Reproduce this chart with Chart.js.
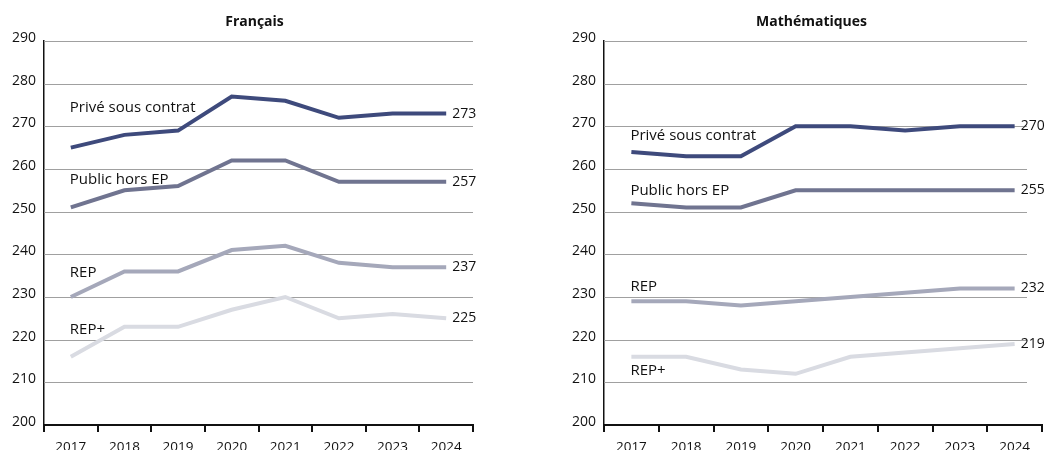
<!DOCTYPE html>
<html>
<head>
    <title>Scores par secteur</title>
    <script src="https://cdn.jsdelivr.net/npm/chart.js"></script>
    <style>
        body { margin: 0; background: #fff; }
        #wrap { position: relative; width: 1050px; height: 450px; }
        .box { position: absolute; top: 0; width: 525px; height: 450px; }
        #boxFr { left: 0; }
        #boxMa { left: 525px; }
    </style>
</head>
<body>
    <div id="wrap">
        <div class="box" id="boxFr"><canvas id="chartFr"></canvas></div>
        <div class="box" id="boxMa"><canvas id="chartMa"></canvas></div>
    </div>

    <script>
        const years = ['2017', '2018', '2019', '2020', '2021', '2022', '2023', '2024'];
        const seriesNames = ['Privé sous contrat', 'Public hors EP', 'REP', 'REP+'];

        // Français
        const frPrive = [265, 268, 269, 277, 276, 272, 273, 273];
        const frPublic = [251, 255, 256, 262, 262, 257, 257, 257];
        const frRep = [230, 236, 236, 241, 242, 238, 237, 237];
        const frRepPlus = [216, 223, 223, 227, 230, 225, 226, 225];

        // Mathématiques
        const maPrive = [264, 263, 263, 270, 270, 269, 270, 270];
        const maPublic = [252, 251, 251, 255, 255, 255, 255, 255];
        const maRep = [229, 229, 228, 229, 230, 231, 232, 232];
        const maRepPlus = [216, 216, 213, 212, 216, 217, 218, 219];

        const yMin = 200, yMax = 290, yStep = 10;

        const colors = ['#3e4a7c', '#707490', '#a5a8ba', '#d9dbe2'];
        const FONT = '"Open Sans", "DejaVu Sans", sans-serif';

        // horizontal gridlines, series names and end values
        const decor = {
            id: 'decor',
            beforeDatasetsDraw(chart, args, opts) {
                const { ctx, chartArea } = chart;
                const y = chart.scales.y;
                ctx.save();
                ctx.strokeStyle = '#a0a0a0';
                ctx.lineWidth = 1;
                for (let v = yMin + yStep; v <= yMax; v += yStep) {
                    const py = Math.round(y.getPixelForValue(v)) + 0.5;
                    ctx.beginPath();
                    ctx.moveTo(chartArea.left, py);
                    ctx.lineTo(chartArea.right - opts.trim, py);
                    ctx.stroke();
                }
                ctx.restore();
            },
            afterDatasetsDraw(chart, args, opts) {
                const { ctx, chartArea } = chart;
                const x = chart.scales.x;
                const y = chart.scales.y;
                ctx.save();
                ctx.fillStyle = '#111';
                ctx.textBaseline = 'middle';
                chart.data.datasets.forEach((ds, i) => {
                    ctx.textAlign = 'left';
                    ctx.font = '15px ' + FONT;
                    ctx.fillText(ds.label, x.getPixelForValue(0) - 1, y.getPixelForValue(opts.nameAt[i]));
                    const last = ds.data.length - 1;
                    ctx.font = '14px ' + FONT;
                    ctx.fillText(String(ds.data[last]), x.getPixelForValue(last) + 6, y.getPixelForValue(ds.data[last]));
                });
                ctx.font = 'bold 14px ' + FONT;
                ctx.textAlign = 'center';
                ctx.fillText(opts.title, (chartArea.left + chartArea.right - opts.trim) / 2 - 4, 22);
                ctx.restore();
            }
        };

        function makeChart(id, title, sets, nameAt, padLeft, padRight, trim) {
            const ctx = document.getElementById(id).getContext('2d');
            return new Chart(ctx, {
                type: 'line',
                data: {
                    labels: years,
                    datasets: sets.map((d, i) => ({
                        label: seriesNames[i],
                        data: d,
                        borderColor: colors[i],
                        borderWidth: 4,
                        pointRadius: 0,
                        tension: 0
                    }))
                },
                options: {
                    responsive: true,
                    maintainAspectRatio: false,
                    animation: false,
                    layout: { padding: { top: 41, left: padLeft, right: padRight, bottom: 0 } },
                    plugins: {
                        legend: { display: false },
                        tooltip: { enabled: false },
                        decor: { title: title, nameAt: nameAt, trim: trim }
                    },
                    scales: {
                        x: {
                            offset: true,
                            afterFit(s) { s.height = 25; },
                            grid: {
                                offset: true,
                                drawOnChartArea: false,
                                drawTicks: true,
                                tickLength: 7,
                                lineWidth: 2,
                                color: '#111'
                            },
                            border: { display: true, color: '#111', width: 2 },
                            ticks: {
                                padding: 7,
                                color: '#111',
                                font: { family: FONT, size: 13.5 },
                                maxRotation: 0
                            }
                        },
                        y: {
                            min: yMin,
                            max: yMax,
                            afterFit(s) { s.width = 44; },
                            grid: { display: false, drawTicks: false },
                            border: { display: true, color: '#111', width: 1.5 },
                            ticks: {
                                stepSize: yStep,
                                padding: 8,
                                labelOffset: -3,
                                color: '#111',
                                font: { family: FONT, size: 14 }
                            }
                        }
                    }
                },
                plugins: [decor]
            });
        }

        makeChart('chartFr', 'Français', [frPrive, frPublic, frRep, frRepPlus],
            [274.3, 257.6, 235.6, 222.4], 0, 52, 0);
        makeChart('chartMa', 'Mathématiques', [maPrive, maPublic, maRep, maRepPlus],
            [267.7, 254.8, 232.3, 212.8], 35, 8, 15);
    </script>
</body>
</html>
